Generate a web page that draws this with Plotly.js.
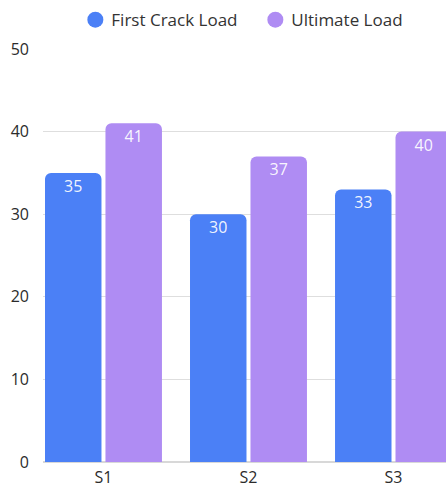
<!DOCTYPE html>
<html><head><meta charset="utf-8">
<script src="https://cdn.plot.ly/plotly-3.0.1.min.js"></script>
<style>html,body{margin:0;padding:0;background:#fff}#chart{width:446px;height:487px}</style>
</head><body><div id="chart"></div>
<script>
const categories = ["S1", "S2", "S3"];
const firstCrack = [35, 30, 33];
const ultimate = [41, 37, 40];
const seriesNames = ["First Crack Load", "Ultimate Load"];
const yTicks = [0, 10, 20, 30, 40, 50];

const FONT = "Open Sans, sans-serif";
const mk = (name, vals, color) => ({
  type: "bar", name: name, x: categories, y: vals,
  marker: {color: color},
  text: vals.map(String), textposition: "inside", insidetextanchor: "end",
  constraintext: "none", textangle: 0,
  textfont: {color: "rgba(255,255,255,0.93)", size: 16, family: FONT},
  cliponaxis: false, hoverinfo: "none"
});
const data = [
  mk(seriesNames[0], firstCrack, "#4B80F6"),
  mk(seriesNames[1], ultimate, "#AF8CF3")
];
const layout = {
  width: 446, height: 487,
  margin: {l: 43, r: 0, t: 49, b: 25, pad: 0},
  paper_bgcolor: "#fff", plot_bgcolor: "#fff",
  font: {family: FONT, color: "#2b2b2b", size: 16},
  barmode: "group", bargap: 0.166, bargroupgap: 0.066, barcornerradius: 6,
  showlegend: true,
  legend: {orientation: "h", x: 0.517, xanchor: "center", y: 1.07, yanchor: "middle",
           font: {size: 17, color: "#333"}, itemsizing: "constant", itemwidth: 30,
           entrywidth: 135, traceorder: "normal"},
  xaxis: {type: "category", range: [-0.417, 2.362], showgrid: false, zeroline: false,
          showline: false, ticks: "", ticklabelstandoff: 4,
          tickfont: {size: 16, color: "#2b2b2b"}, fixedrange: true},
  yaxis: {range: [0, 50], tickvals: yTicks, showgrid: true, gridcolor: "#dedede", gridwidth: 1,
          zeroline: true, zerolinecolor: "#d8d8d8", zerolinewidth: 1.5, showline: false, ticks: "",
          ticklabelstandoff: 13, tickfont: {size: 16, color: "#2b2b2b"}, fixedrange: true}
};
Plotly.newPlot("chart", data, layout, {staticPlot: true, displayModeBar: false}).then(() => {
  document.querySelectorAll(".legend .legendpoints path").forEach(p => {
    p.setAttribute("d", "M8,0A8,8 0 1,1 -8,0A8,8 0 1,1 8,0Z");
    p.setAttribute("transform", "translate(24,0)");
  });
  document.querySelectorAll(".barlayer text.bartext").forEach(t => {
    const y = parseFloat(t.getAttribute("y") || "0");
    t.setAttribute("y", y - 4);
  });
});
</script></body></html>
